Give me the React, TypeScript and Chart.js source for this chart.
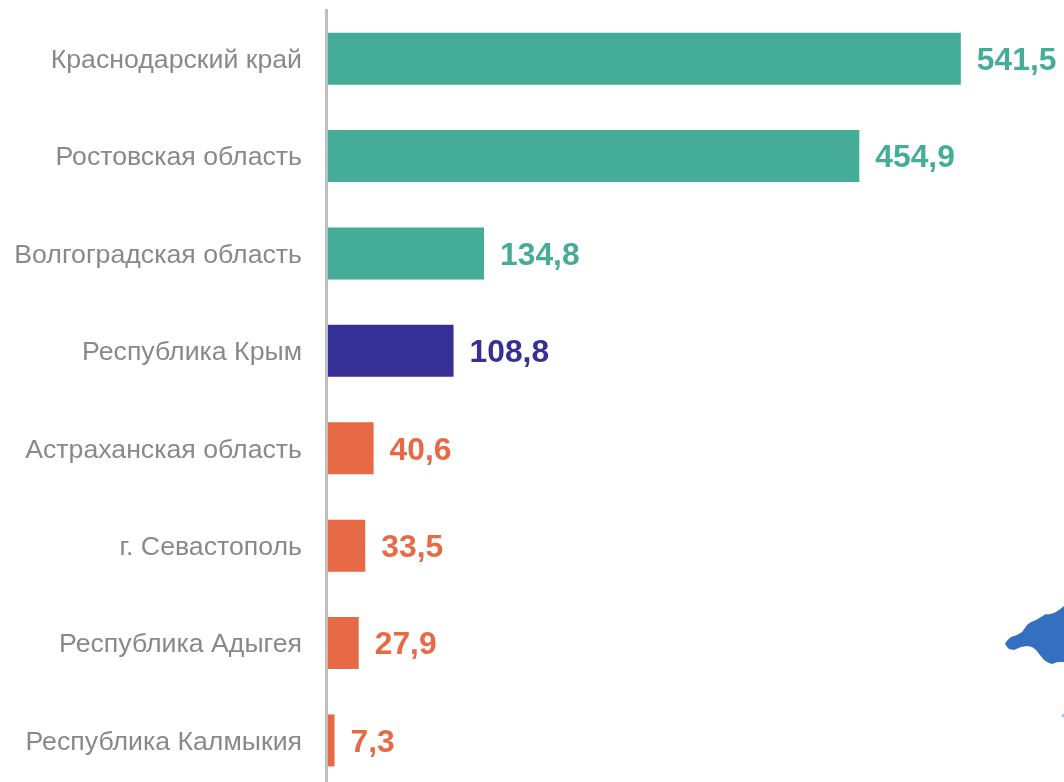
import React, { useEffect, useRef } from "react";
import { Chart, registerables } from "chart.js";

Chart.register(...registerables);

const categories = [
  "Краснодарский край",
  "Ростовская область",
  "Волгоградская область",
  "Республика Крым",
  "Астраханская область",
  "г. Севастополь",
  "Республика Адыгея",
  "Республика Калмыкия",
];
const values = [541.5, 454.9, 134.8, 108.8, 40.6, 33.5, 27.9, 7.3];
const colors = ["#45AC97", "#45AC97", "#45AC97", "#352F96", "#E66A45", "#E66A45", "#E66A45", "#E66A45"];
const FONT = '"Liberation Sans", Arial, sans-serif';

const valueLabels = {
  id: "valueLabels",
  afterDatasetsDraw(chart: any) {
    const { ctx } = chart;
    const meta = chart.getDatasetMeta(0);
    ctx.save();
    ctx.font = `bold 31.8px ${FONT}`;
    ctx.textBaseline = "middle";
    ctx.textAlign = "left";
    meta.data.forEach((bar: any, i: number) => {
      ctx.fillStyle = colors[i];
      ctx.fillText(values[i].toFixed(1).replace(".", ","), bar.x + 16, bar.y + 2.5);
    });
    ctx.restore();
  },
};

export default function App() {
  const ref = useRef<HTMLCanvasElement>(null);
  useEffect(() => {
    const chart = new Chart(ref.current!, {
      type: "bar",
      data: {
        labels: categories,
        datasets: [{ data: values, backgroundColor: colors, categoryPercentage: 0.534, barPercentage: 1 }],
      },
      options: {
        indexAxis: "y",
        animation: false,
        responsive: false,
        layout: { padding: { top: 10, bottom: 0.9, left: 0, right: 0 } },
        plugins: { legend: { display: false }, tooltip: { enabled: false } },
        scales: {
          x: { display: false, min: 0, max: 629.5 },
          y: {
            afterFit(axis: any) {
              axis.width = 326;
              axis.paddingTop = 0;
              axis.paddingBottom = 0;
            },
            grid: { display: false },
            border: { display: true, color: "#BFBFBF", width: 3, z: 1 },
            ticks: { color: "#898989", font: { family: FONT, size: 26.7 }, padding: 16, labelOffset: 2 },
          },
        },
      },
      plugins: [valueLabels],
    });
    return () => chart.destroy();
  }, []);
  return (
    <div style={{ position: "fixed", left: 0, top: 0, width: 1064, height: 782, overflow: "hidden", background: "#fff" }}>
      <canvas ref={ref} width={1064} height={790} style={{ position: "absolute", left: 0, top: 0, display: "block" }} />
      <svg width={1064} height={782} style={{ position: "absolute", left: 0, top: 0, pointerEvents: "none" }}>
        <path
          d="M1005 643.5 L1008 639.5 L1011 637 L1017 635 L1022 632 L1027 625 L1031 622 L1036 620 L1041 617 L1046 614 L1048 614.5 L1054 613 L1059 610 L1064 606 L1064 662 L1058 662 L1052 664 L1048 662.5 L1044 660 L1040 655 L1036 650 L1032 647 L1027 646 L1021 647 L1014 650 L1009 649 L1007 647 Z"
          fill="#3570C0"
        />
        <circle cx={1063.5} cy={715.5} r={2} fill="#A9CBF2" />
      </svg>
    </div>
  );
}
